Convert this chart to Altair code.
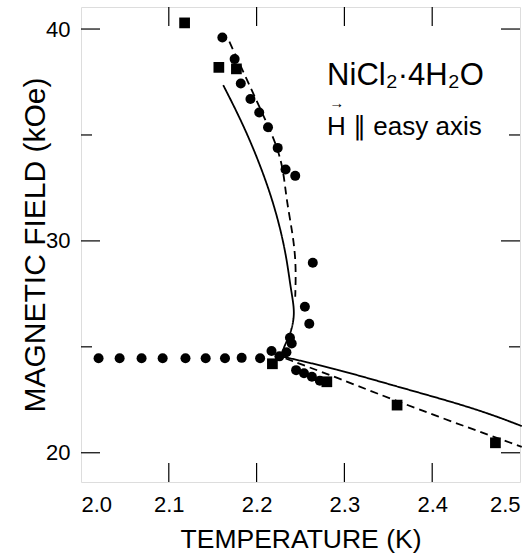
import altair as alt
import pandas as pd

FONT = "Liberation Sans"

# ---- data ----
circle_T = [2.161, 2.175, 2.182, 2.193, 2.203, 2.213, 2.224, 2.233, 2.244,
            2.264, 2.255, 2.260, 2.238, 2.240, 2.217, 2.234, 2.226,
            2.020, 2.044, 2.069, 2.093, 2.119, 2.142, 2.164, 2.183, 2.204,
            2.245, 2.254, 2.263, 2.272]
circle_H = [39.60, 38.58, 37.43, 36.70, 36.06, 35.36, 34.39, 33.37, 33.07,
            28.97, 26.89, 26.09, 25.43, 25.16, 24.80, 24.74, 24.55,
            24.46, 24.46, 24.46, 24.46, 24.46, 24.46, 24.46, 24.48, 24.46,
            23.90, 23.75, 23.59, 23.40]

square_T = [2.118, 2.157, 2.177, 2.218, 2.280, 2.360, 2.472]
square_H = [40.29, 38.19, 38.12, 24.20, 23.35, 22.25, 20.47]

solid_up_T = [2.162, 2.190, 2.218, 2.233, 2.238, 2.242, 2.243, 2.239, 2.231, 2.228]
solid_up_H = [37.35, 35.07, 32.08, 29.56, 27.99, 27.05, 26.42, 25.63, 25.00, 24.55]
solid_lo_T = [2.228, 2.289, 2.361, 2.449, 2.502]
solid_lo_H = [24.55, 23.98, 23.11, 22.10, 21.26]
dash_up_T = [2.169, 2.205, 2.224, 2.231, 2.234, 2.242, 2.245, 2.244]
dash_up_H = [39.40, 36.17, 34.44, 33.19, 31.93, 30.15, 28.78, 27.36]
dash_lo_T = [2.233, 2.289, 2.380, 2.502]
dash_lo_H = [24.45, 23.59, 22.10, 20.28]

x_tick_values = [2.0, 2.1, 2.2, 2.3, 2.4, 2.5]
x_inner_ticks = [2.1, 2.2, 2.3, 2.4]
y_tick_values = [20, 30, 40]
y_minor_ticks = [25, 35]

label1_T, label1_H, label1_text = [2.2803], [37.35], ["NiCl₂·4H₂O"]
label2_T, label2_H, label2_text = [2.2803], [34.99], ["H ∥ easy axis"]
arrow_T, arrow_H, arrow_text = [2.2913], [36.50], ["→"]

# ---- tables ----
rows = []
for seg, style, Ts, Hs in [("su", "solid", solid_up_T, solid_up_H),
                           ("sl", "solid", solid_lo_T, solid_lo_H),
                           ("du", "dashed", dash_up_T, dash_up_H),
                           ("dl", "dashed", dash_lo_T, dash_lo_H)]:
    for i, (t, h) in enumerate(zip(Ts, Hs)):
        rows.append({"T": t, "H": h, "seg": seg, "style": style, "i": i})
curves = pd.DataFrame(rows)
circles = pd.DataFrame({"T": circle_T, "H": circle_H})
squares = pd.DataFrame({"T": square_T, "H": square_H})
xt = pd.DataFrame({"T": x_inner_ticks})
ytM = pd.DataFrame({"H": y_tick_values})
ytm = pd.DataFrame({"H": y_minor_ticks})
lab1 = pd.DataFrame({"T": label1_T, "H": label1_H, "txt": label1_text})
lab2 = pd.DataFrame({"T": label2_T, "H": label2_H, "txt": label2_text})
arrow = pd.DataFrame({"T": arrow_T, "H": arrow_H, "txt": arrow_text})

W, Hh = 439, 475
xs = alt.Scale(domain=[2.0, 2.5], nice=False, zero=False)
ys = alt.Scale(domain=[18.62, 41.04], nice=False, zero=False)

xaxis = alt.Axis(
    values=x_tick_values, format=".1f", labelFlush=True, title="TEMPERATURE (K)",
    labelFontSize=22, labelPadding=12, labelColor="black", labelFont=FONT,
    titleFontSize=26.5, titleFont=FONT, titleFontWeight="normal", titleColor="black",
    titleBaseline="top", titleY=44, ticks=False, domain=False, grid=False)
yaxis = alt.Axis(
    values=y_tick_values, title="MAGNETIC FIELD (kOe)",
    labelFontSize=22, labelPadding=11, labelColor="black", labelFont=FONT,
    titleFontSize=30, titleFont=FONT, titleFontWeight="normal", titleColor="black",
    titleBaseline="top", titleX=-61, titleY=Hh / 2, titleAlign="center", titleAngle=-90,
    ticks=False, domain=False, grid=False)
X = alt.X("T:Q", scale=xs, axis=xaxis, title="TEMPERATURE (K)")
Y = alt.Y("H:Q", scale=ys, axis=yaxis, title="MAGNETIC FIELD (kOe)")

lines = alt.Chart(curves).mark_line(color="black", strokeWidth=1.8, interpolate="basis").encode(
    x=X, y=Y, detail="seg:N", order="i:Q",
    strokeDash=alt.StrokeDash("style:N", scale=alt.Scale(domain=["solid", "dashed"], range=[[1, 0], [8, 5]]), legend=None))

pts_c = alt.Chart(circles).mark_point(shape="circle", filled=True, color="black", opacity=1, size=100).encode(x=X, y=Y)
pts_s = alt.Chart(squares).mark_point(shape="square", filled=True, color="black", opacity=1, size=115).encode(x=X, y=Y)

tick_b = alt.Chart(xt).mark_rule(color="black", strokeWidth=1.2).encode(x=X, y=alt.value(Hh), y2=alt.value(Hh - 19))
tick_t = alt.Chart(xt).mark_rule(color="black", strokeWidth=1.2).encode(x=X, y=alt.value(0), y2=alt.value(19))
tick_lM = alt.Chart(ytM).mark_rule(color="black", strokeWidth=1.2).encode(y=Y, x=alt.value(0), x2=alt.value(19))
tick_rM = alt.Chart(ytM).mark_rule(color="black", strokeWidth=1.2).encode(y=Y, x=alt.value(W), x2=alt.value(W - 19))
tick_lm = alt.Chart(ytm).mark_rule(color="black", strokeWidth=1.2).encode(y=Y, x=alt.value(0), x2=alt.value(11))
tick_rm = alt.Chart(ytm).mark_rule(color="black", strokeWidth=1.2).encode(y=Y, x=alt.value(W), x2=alt.value(W - 11))

txt1 = alt.Chart(lab1).mark_text(align="left", baseline="alphabetic", fontSize=31, font=FONT, color="black").encode(
    x=X, y=Y, text="txt:N")
txt2 = alt.Chart(lab2).mark_text(align="left", baseline="alphabetic", fontSize=26, font=FONT, color="black").encode(
    x=X, y=Y, text="txt:N")
arr = alt.Chart(arrow).mark_text(align="center", baseline="middle", fontSize=15, fontWeight="bold", font=FONT, color="black").encode(
    x=X, y=Y, text="txt:N")

chart = alt.layer(lines, pts_c, pts_s, tick_b, tick_t, tick_lM, tick_rM, tick_lm, tick_rm, txt1, txt2, arr).properties(
    width=W, height=Hh,
    autosize=alt.AutoSizeParams(type="none"),
    padding={"left": 81, "top": 7, "right": 3, "bottom": 74},
).configure_view(stroke="black", strokeWidth=1.5).configure(background="white")

chart.save("out.html", embed_options={"renderer": "svg", "actions": False})
